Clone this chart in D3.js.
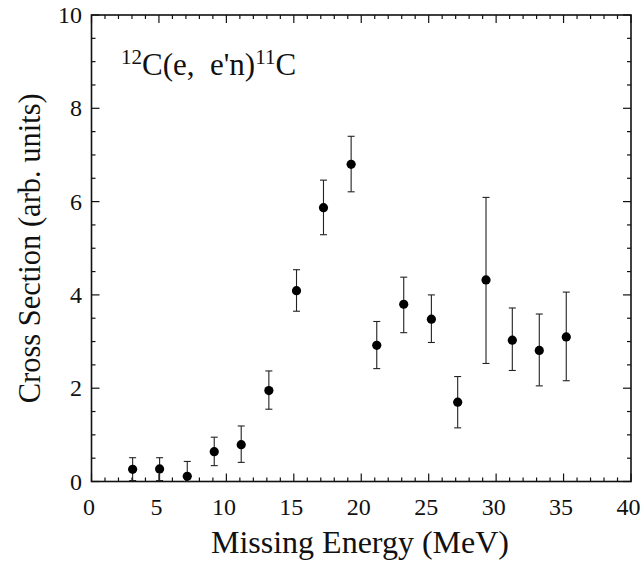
<!DOCTYPE html>
<html>
<head>
<meta charset="utf-8">
<script src="https://cdn.jsdelivr.net/npm/d3@7"></script>
<style>
  html, body { margin: 0; padding: 0; background: #fff; }
  svg { display: block; }
  text { font-family: "Liberation Serif", "Times New Roman", serif; fill: #111; }
</style>
</head>
<body>
<svg id="chart" width="642" height="566"></svg>
<script>
// ---- data ----
const energy       = [3.05, 5.05, 7.1, 9.1, 11.1, 13.15, 15.2, 17.2, 19.25, 21.15, 23.15, 25.2, 27.15, 29.25, 31.2, 33.2, 35.2];
const crossSection = [0.26, 0.27, 0.11, 0.64, 0.79, 1.95, 4.09, 5.87, 6.80, 2.92, 3.80, 3.48, 1.70, 4.32, 3.03, 2.81, 3.10];
const errTop       = [0.51, 0.51, 0.43, 0.95, 1.19, 2.37, 4.54, 6.46, 7.40, 3.43, 4.38, 4.00, 2.25, 6.09, 3.72, 3.59, 4.06];
const errBottom    = [0.02, 0.02, 0.00, 0.34, 0.41, 1.55, 3.65, 5.29, 6.21, 2.42, 3.19, 2.98, 1.15, 2.53, 2.38, 2.05, 2.16];
const xTicks = [0, 5, 10, 15, 20, 25, 30, 35, 40];
const yTicks = [0, 2, 4, 6, 8, 10];
const xTitle = "Missing Energy (MeV)";
const yTitle = "Cross Section (arb. units)";

// ---- layout ----
const svg = d3.select("#chart");
const L = 91.5, R = 631, T = 15, B = 481.5;
const x = d3.scaleLinear().domain([0, 40]).range([L, R]);
const y = d3.scaleLinear().domain([0, 10]).range([B, T]);

const xMinor = d3.range(0, 41, 1).filter(v => v % 5 !== 0);
const yMinor = d3.range(0, 10.01, 0.5).filter(v => v % 2 !== 0);

// frame
svg.append("rect").attr("x", L).attr("y", T).attr("width", R - L).attr("height", B - T)
  .attr("fill", "none").attr("stroke", "#111").attr("stroke-width", 1.6);

const tickG = svg.append("g").attr("stroke", "#111").attr("stroke-width", 1.2);
function vTicks(vals, len) {
  vals.forEach(v => {
    tickG.append("line").attr("x1", x(v)).attr("x2", x(v)).attr("y1", B).attr("y2", B - len);
    tickG.append("line").attr("x1", x(v)).attr("x2", x(v)).attr("y1", T).attr("y2", T + len);
  });
}
function hTicks(vals, len) {
  vals.forEach(v => {
    tickG.append("line").attr("y1", y(v)).attr("y2", y(v)).attr("x1", L).attr("x2", L + len);
    tickG.append("line").attr("y1", y(v)).attr("y2", y(v)).attr("x1", R).attr("x2", R - len);
  });
}
vTicks(xTicks, 8); vTicks(xMinor, 4);
hTicks(yTicks, 8); hTicks(yMinor, 4);

// tick labels
svg.append("g").selectAll("text").data(xTicks).join("text")
  .attr("x", d => x(d) - 2.5).attr("y", 515).attr("text-anchor", "middle")
  .attr("font-size", 24).text(d => d);
svg.append("g").selectAll("text").data(yTicks).join("text")
  .attr("x", 82).attr("y", d => y(d) + 8).attr("text-anchor", "end")
  .attr("font-size", 24).text(d => d);

// axis titles
svg.append("text").attr("x", 360).attr("y", 553).attr("text-anchor", "middle")
  .attr("font-size", 32).text(xTitle);
svg.append("text").attr("transform", `translate(40,${(T + B) / 2}) rotate(-90)`)
  .attr("text-anchor", "middle").attr("font-size", 30.5).text(yTitle);

// annotation
const ann = svg.append("text").attr("x", 121).attr("y", 75).attr("font-size", 31)
  .style("white-space", "pre");
ann.append("tspan").attr("font-size", 21).attr("dy", -11).text("12");
ann.append("tspan").attr("dy", 11).text("C(e,  e'n)");
ann.append("tspan").attr("font-size", 21).attr("dy", -11).text("11");
ann.append("tspan").attr("dy", 11).text("C");

// error bars
const idx = d3.range(energy.length);
const eb = svg.append("g").attr("stroke", "#222").attr("stroke-width", 1.1);
eb.selectAll("line.v").data(idx).join("line").attr("class", "v")
  .attr("x1", i => x(energy[i])).attr("x2", i => x(energy[i]))
  .attr("y1", i => y(errTop[i])).attr("y2", i => y(errBottom[i]));
eb.selectAll("line.t").data(idx).join("line").attr("class", "t")
  .attr("x1", i => x(energy[i]) - 3.5).attr("x2", i => x(energy[i]) + 3.5)
  .attr("y1", i => y(errTop[i])).attr("y2", i => y(errTop[i]));
eb.selectAll("line.b").data(idx).join("line").attr("class", "b")
  .attr("x1", i => x(energy[i]) - 3.5).attr("x2", i => x(energy[i]) + 3.5)
  .attr("y1", i => y(errBottom[i])).attr("y2", i => y(errBottom[i]));

// points
svg.append("g").selectAll("circle").data(idx).join("circle")
  .attr("cx", i => x(energy[i])).attr("cy", i => y(crossSection[i]))
  .attr("r", 4.6).attr("fill", "#000");
</script>
</body>
</html>
